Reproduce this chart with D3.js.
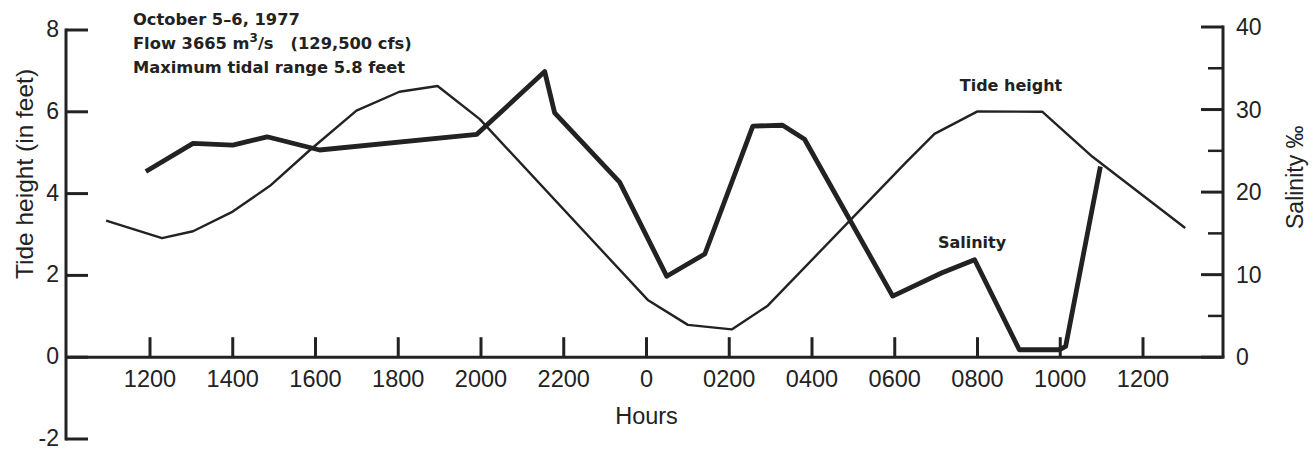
<!DOCTYPE html>
<html>
<head>
<meta charset="utf-8">
<script src="https://cdn.jsdelivr.net/npm/d3@7"></script>
<style>
  body { margin: 0; background: #fff; }
  svg text { font-family: "Liberation Sans", Arial, sans-serif; fill: #222; }
  svg text.bold { font-family: "DejaVu Sans", sans-serif; font-weight: bold; }
</style>
</head>
<body>
<div id="chart"></div>
<script>
// Size of the page
var w = 1313, h = 451;

///////////////////////////////////////////////////////////////////////////
//////////////////////////////// Data /////////////////////////////////////
///////////////////////////////////////////////////////////////////////////

//hours are counted from midnight of October 5 (24 = midnight, 36 = noon next day)
var tideHours  = [10.94, 12.29, 13.04, 14.0, 14.9, 15.86, 16.99, 18.03, 18.95, 19.97,
                  24.03, 25.0, 26.06, 26.93, 30.29, 30.96, 32.0, 33.57, 34.78, 37.02];
var tideFeet   = [3.34, 2.91, 3.08, 3.56, 4.19, 5.06, 6.03, 6.49, 6.63, 5.82,
                  1.40, 0.79, 0.68, 1.26, 4.78, 5.46, 6.01, 6.0, 4.90, 3.16];

var salHours   = [11.9, 13.04, 14.0, 14.83, 16.1, 19.9, 21.54, 21.78, 23.35, 24.49, 25.41,
                  26.57, 27.29, 27.82, 29.95, 31.13, 31.93, 33.01, 33.98, 34.13, 34.97];
var salPpt     = [22.5, 25.9, 25.7, 26.7, 25.1, 27.0, 34.6, 29.6, 21.2, 9.8, 12.5,
                  28.0, 28.1, 26.4, 7.4, 10.2, 11.8, 0.9, 0.9, 1.3, 23.1];

var hourTicks  = [12, 14, 16, 18, 20, 22, 24, 26, 28, 30, 32, 34, 36];
var hourLabels = ["1200", "1400", "1600", "1800", "2000", "2200", "0",
                  "0200", "0400", "0600", "0800", "1000", "1200"];
var tideTicks  = [-2, 0, 2, 4, 6, 8];
var tideLabels = ["-2", "0", "2", "4", "6", "8"];
var salMajor   = [0, 10, 20, 30, 40];
var salMinor   = [5, 15, 25, 35];

var notes = ["October 5\u20136, 1977", "Flow 3665 m", "Maximum tidal range 5.8 feet"];

///////////////////////////////////////////////////////////////////////////
/////////////////////////////// Scales ////////////////////////////////////
///////////////////////////////////////////////////////////////////////////

var x = d3.scaleLinear().domain([12, 36]).range([150, 1143]);
var yTide = d3.scaleLinear().domain([-2, 8]).range([439, 30]);
var ySal = d3.scaleLinear().domain([0, 40]).range([yTide(0), 27]);

var leftX = 66, rightX = 1223;

var svg = d3.select("#chart").append("svg")
	.attr("width", w)
	.attr("height", h);

svg.append("rect").attr("width", w).attr("height", h).attr("fill", "#fff");

var ink = "#222";

///////////////////////////////////////////////////////////////////////////
//////////////////////////////// Axes /////////////////////////////////////
///////////////////////////////////////////////////////////////////////////

//Left axis (tide height)
svg.append("line")
	.attr("x1", leftX).attr("x2", leftX)
	.attr("y1", yTide(8) - 1.5).attr("y2", yTide(-2) + 1.5)
	.attr("stroke", ink).attr("stroke-width", 3);

svg.selectAll(".tideTick")
	.data(tideTicks).enter().append("line")
	.attr("class", "tideTick")
	.attr("x1", leftX).attr("x2", leftX + 22)
	.attr("y1", function(d) {return yTide(d);})
	.attr("y2", function(d) {return yTide(d);})
	.attr("stroke", ink).attr("stroke-width", 3);

svg.selectAll(".tideLabel")
	.data(tideTicks).enter().append("text")
	.attr("class", "tideLabel")
	.attr("x", leftX - 7)
	.attr("y", function(d) {return yTide(d) + 7;})
	.attr("text-anchor", "end")
	.style("font-size", "23px")
	.text(function(d, i) {return tideLabels[i];});

//Bottom axis (hours)
svg.append("line")
	.attr("x1", leftX).attr("x2", rightX + 1.5)
	.attr("y1", yTide(0)).attr("y2", yTide(0))
	.attr("stroke", ink).attr("stroke-width", 3);

svg.selectAll(".hourTick")
	.data(hourTicks).enter().append("line")
	.attr("class", "hourTick")
	.attr("x1", function(d) {return x(d);})
	.attr("x2", function(d) {return x(d);})
	.attr("y1", yTide(0)).attr("y2", yTide(0) - 20)
	.attr("stroke", ink).attr("stroke-width", 3);

svg.selectAll(".hourLabel")
	.data(hourTicks).enter().append("text")
	.attr("class", "hourLabel")
	.attr("x", function(d) {return x(d);})
	.attr("y", yTide(0) + 30)
	.attr("text-anchor", "middle")
	.style("font-size", "23.5px")
	.text(function(d, i) {return hourLabels[i];});

svg.append("text")
	.attr("x", x(24))
	.attr("y", yTide(0) + 67)
	.attr("text-anchor", "middle")
	.style("font-size", "23.5px")
	.text("Hours");

//Right axis (salinity)
svg.append("line")
	.attr("x1", rightX).attr("x2", rightX)
	.attr("y1", ySal(40) - 1.5).attr("y2", ySal(0))
	.attr("stroke", ink).attr("stroke-width", 3);

svg.selectAll(".salTick")
	.data(salMajor).enter().append("line")
	.attr("class", "salTick")
	.attr("x1", rightX - 22).attr("x2", rightX)
	.attr("y1", function(d) {return ySal(d);})
	.attr("y2", function(d) {return ySal(d);})
	.attr("stroke", ink).attr("stroke-width", 3);

svg.selectAll(".salMinor")
	.data(salMinor).enter().append("line")
	.attr("class", "salMinor")
	.attr("x1", rightX - 15).attr("x2", rightX)
	.attr("y1", function(d) {return ySal(d);})
	.attr("y2", function(d) {return ySal(d);})
	.attr("stroke", ink).attr("stroke-width", 2.5);

svg.selectAll(".salLabel")
	.data(salMajor).enter().append("text")
	.attr("class", "salLabel")
	.attr("x", rightX + 13)
	.attr("y", function(d) {return ySal(d) + 8;})
	.style("font-size", "23px")
	.text(function(d) {return d;});

//Axis titles
svg.append("text")
	.attr("transform", "translate(33,174) rotate(-90)")
	.attr("text-anchor", "middle")
	.style("font-size", "24.5px")
	.text("Tide height (in feet)");

svg.append("text")
	.attr("transform", "translate(1303,229) rotate(-90)")
	.attr("text-anchor", "start")
	.style("font-size", "23px")
	.text("Salinity \u2030");

///////////////////////////////////////////////////////////////////////////
//////////////////////////////// Lines ////////////////////////////////////
///////////////////////////////////////////////////////////////////////////

var tideLine = d3.line()
	.x(function(d) {return x(d[0]);})
	.y(function(d) {return yTide(d[1]);});

var salLine = d3.line()
	.x(function(d) {return x(d[0]);})
	.y(function(d) {return ySal(d[1]);});

svg.append("path")
	.datum(d3.zip(tideHours, tideFeet))
	.attr("d", tideLine)
	.attr("fill", "none")
	.attr("stroke", ink)
	.attr("stroke-width", 2.4)
	.attr("stroke-linejoin", "round");

svg.append("path")
	.datum(d3.zip(salHours, salPpt))
	.attr("d", salLine)
	.attr("fill", "none")
	.attr("stroke", ink)
	.attr("stroke-width", 4.8)
	.attr("stroke-linejoin", "round");

//Line labels
svg.append("text")
	.attr("class", "bold")
	.attr("x", 1011).attr("y", 91)
	.attr("text-anchor", "middle")
	.style("font-size", "16px")
	.text("Tide height");

svg.append("text")
	.attr("class", "bold")
	.attr("x", 972).attr("y", 248)
	.attr("text-anchor", "middle")
	.style("font-size", "16px")
	.text("Salinity");

///////////////////////////////////////////////////////////////////////////
//////////////////////////////// Notes ////////////////////////////////////
///////////////////////////////////////////////////////////////////////////

var noteG = svg.append("g").style("font-size", "16.3px");

noteG.append("text").attr("class", "bold").attr("x", 133).attr("y", 25).text(notes[0]);

var flow = noteG.append("text").attr("class", "bold").attr("x", 133).attr("y", 49);
flow.append("tspan").text(notes[1]);
flow.append("tspan").attr("dy", -7).style("font-size", "12px").text("3");
flow.append("tspan").attr("dy", 7).text("/s\u00a0\u00a0\u00a0(129,500 cfs)");

noteG.append("text").attr("class", "bold").attr("x", 133).attr("y", 73).text(notes[2]);
</script>
</body>
</html>
